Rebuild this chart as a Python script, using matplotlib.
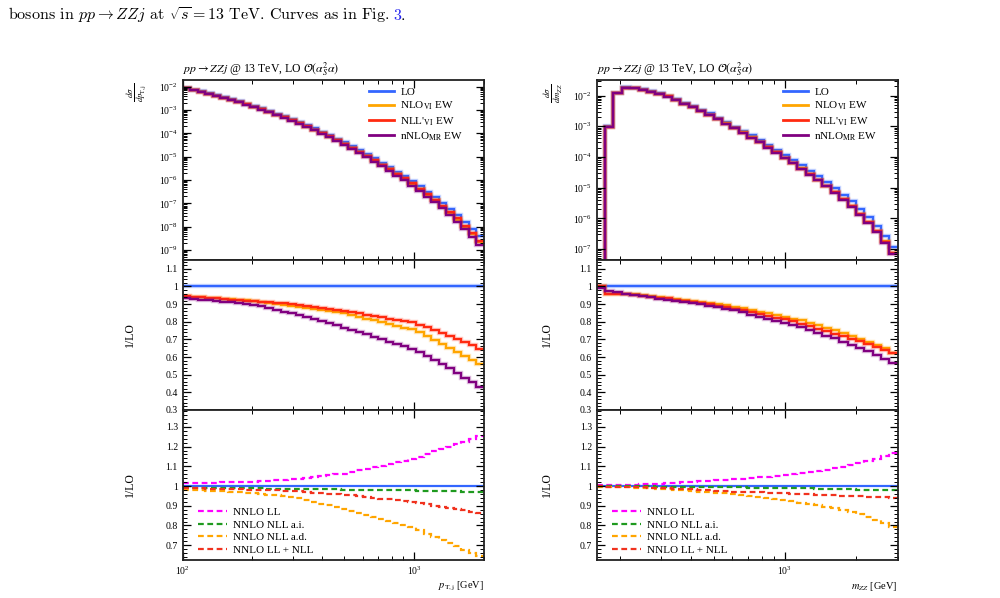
import numpy as np
import matplotlib.pyplot as plt
from matplotlib.ticker import LogLocator, MultipleLocator, NullFormatter, FuncFormatter
from matplotlib.lines import Line2D

plt.rcParams['font.family'] = ['Liberation Serif', 'DejaVu Serif']
plt.rcParams['mathtext.fontset'] = 'stix'

# log-spaced histogram binning
pt_edges = np.geomspace(100, 2000, 41)
mzz_edges = np.geomspace(160, 3000, 37)

# ---- p_T,j distribution (LO) and ratios to LO
pt_lo = [9.1e-3, 7.6e-3, 6.5e-3, 5.2e-3, 4.4e-3, 3.5e-3, 2.95e-3, 2.34e-3, 1.91e-3, 1.51e-3,
         1.17e-3, 9.3e-4, 7.1e-4, 5.5e-4, 4.1e-4, 3.1e-4, 2.24e-4, 1.66e-4, 1.20e-4, 8.5e-5,
         6.0e-5, 4.2e-5, 2.8e-5, 1.95e-5, 1.32e-5, 8.5e-6, 5.6e-6, 3.6e-6, 2.3e-6, 1.45e-6,
         8.9e-7, 5.4e-7, 3.2e-7, 1.9e-7, 1.07e-7, 5.8e-8, 3.2e-8, 1.62e-8, 8.1e-9, 3.9e-9]
pt_nlo = [0.945, 0.942, 0.939, 0.936, 0.933, 0.930, 0.927, 0.924, 0.921, 0.917,
          0.912, 0.907, 0.901, 0.896, 0.891, 0.885, 0.879, 0.873, 0.867, 0.860,
          0.854, 0.847, 0.838, 0.828, 0.818, 0.808, 0.797, 0.787, 0.777, 0.767,
          0.757, 0.740, 0.718, 0.696, 0.674, 0.651, 0.628, 0.605, 0.583, 0.560]
pt_nll = [0.944, 0.941, 0.938, 0.935, 0.932, 0.929, 0.926, 0.923, 0.920, 0.917,
          0.914, 0.910, 0.907, 0.904, 0.901, 0.896, 0.890, 0.884, 0.877, 0.872,
          0.867, 0.862, 0.855, 0.848, 0.840, 0.833, 0.826, 0.818, 0.811, 0.804,
          0.797, 0.783, 0.768, 0.753, 0.738, 0.720, 0.702, 0.684, 0.667, 0.648]
pt_nnlo_mr = [0.933, 0.930, 0.926, 0.922, 0.918, 0.914, 0.910, 0.906, 0.902, 0.897,
              0.888, 0.878, 0.868, 0.858, 0.848, 0.838, 0.827, 0.816, 0.805, 0.793,
              0.780, 0.767, 0.754, 0.741, 0.728, 0.715, 0.701, 0.688, 0.674, 0.661,
              0.647, 0.628, 0.607, 0.585, 0.563, 0.538, 0.511, 0.484, 0.456, 0.428]
pt_ll = [1.013, 1.014, 1.015, 1.016, 1.017, 1.018, 1.019, 1.020, 1.021, 1.022,
         1.025, 1.027, 1.029, 1.031, 1.034, 1.038, 1.042, 1.047, 1.051, 1.056,
         1.060, 1.063, 1.071, 1.079, 1.088, 1.096, 1.104, 1.112, 1.121, 1.129,
         1.137, 1.149, 1.162, 1.175, 1.187, 1.200, 1.212, 1.225, 1.238, 1.251]
pt_nll_ai = [0.992, 0.992, 0.991, 0.991, 0.990, 0.990, 0.990, 0.989, 0.989, 0.988,
             0.988, 0.987, 0.987, 0.986, 0.986, 0.985, 0.985, 0.984, 0.984, 0.983,
             0.983, 0.982, 0.982, 0.981, 0.981, 0.980, 0.980, 0.979, 0.979, 0.978,
             0.978, 0.977, 0.977, 0.976, 0.975, 0.974, 0.973, 0.972, 0.971, 0.970]
pt_nll_ad = [0.982, 0.980, 0.978, 0.976, 0.975, 0.973, 0.971, 0.969, 0.967, 0.965,
             0.961, 0.957, 0.953, 0.949, 0.945, 0.937, 0.928, 0.920, 0.911, 0.902,
             0.894, 0.885, 0.875, 0.865, 0.854, 0.844, 0.834, 0.824, 0.813, 0.803,
             0.792, 0.775, 0.759, 0.742, 0.726, 0.710, 0.694, 0.677, 0.661, 0.645]
pt_ll_nll = [0.990, 0.989, 0.988, 0.987, 0.986, 0.985, 0.984, 0.983, 0.982, 0.981,
             0.980, 0.979, 0.978, 0.977, 0.976, 0.973, 0.970, 0.967, 0.964, 0.962,
             0.959, 0.956, 0.952, 0.948, 0.944, 0.940, 0.936, 0.932, 0.928, 0.924,
             0.920, 0.914, 0.908, 0.901, 0.895, 0.889, 0.882, 0.876, 0.869, 0.863]

# ---- m_ZZ distribution (LO) and ratios to LO  (first bin is empty)
mzz_lo = [1e-12, 1.0e-3, 1.23e-2, 1.9e-2, 1.82e-2, 1.58e-2, 1.38e-2, 1.17e-2, 1.0e-2, 7.9e-3,
          5.9e-3, 4.6e-3, 3.4e-3, 2.6e-3, 1.9e-3, 1.38e-3, 9.8e-4, 7.2e-4, 5.0e-4, 3.6e-4,
          2.45e-4, 1.7e-4, 1.15e-4, 7.9e-5, 5.3e-5, 3.55e-5, 2.35e-5, 1.51e-5, 9.5e-6, 5.9e-6,
          3.55e-6, 2.04e-6, 1.12e-6, 5.8e-7, 2.75e-7, 1.2e-7]
mzz_nlo = [1.0, 0.955, 0.955, 0.957, 0.957, 0.951, 0.946, 0.940, 0.935, 0.929,
           0.923, 0.918, 0.912, 0.906, 0.900, 0.893, 0.885, 0.876, 0.866, 0.857,
           0.847, 0.838, 0.828, 0.818, 0.808, 0.794, 0.780, 0.766, 0.751, 0.735,
           0.719, 0.703, 0.686, 0.668, 0.649, 0.625]
mzz_nll = [1.0, 0.955, 0.955, 0.955, 0.951, 0.946, 0.941, 0.937, 0.932, 0.926,
           0.920, 0.913, 0.907, 0.899, 0.891, 0.884, 0.875, 0.865, 0.855, 0.845,
           0.835, 0.824, 0.813, 0.802, 0.790, 0.776, 0.761, 0.747, 0.733, 0.718,
           0.704, 0.689, 0.675, 0.658, 0.641, 0.622]
mzz_nnlo_mr = [0.99, 0.977, 0.968, 0.960, 0.952, 0.945, 0.938, 0.931, 0.925, 0.919,
               0.912, 0.906, 0.899, 0.891, 0.883, 0.874, 0.864, 0.853, 0.841, 0.829,
               0.817, 0.806, 0.794, 0.782, 0.769, 0.753, 0.738, 0.722, 0.706, 0.688,
               0.671, 0.653, 0.635, 0.612, 0.590, 0.568]
mzz_ll = [1.003, 1.004, 1.005, 1.006, 1.007, 1.009, 1.010, 1.011, 1.013, 1.016,
          1.018, 1.021, 1.024, 1.027, 1.030, 1.033, 1.035, 1.038, 1.041, 1.044,
          1.048, 1.052, 1.056, 1.061, 1.065, 1.069, 1.074, 1.080, 1.090, 1.098,
          1.106, 1.115, 1.126, 1.139, 1.151, 1.168]
mzz_nll_ai = [1.000, 1.000, 0.999, 0.999, 0.999, 0.998, 0.998, 0.997, 0.997, 0.996,
              0.996, 0.995, 0.995, 0.994, 0.994, 0.993, 0.993, 0.993, 0.992, 0.992,
              0.991, 0.991, 0.990, 0.990, 0.989, 0.988, 0.987, 0.986, 0.985, 0.984,
              0.983, 0.982, 0.981, 0.980, 0.979, 0.978]
mzz_nll_ad = [0.997, 0.996, 0.994, 0.993, 0.991, 0.990, 0.988, 0.987, 0.984, 0.981,
              0.978, 0.975, 0.972, 0.969, 0.966, 0.963, 0.959, 0.955, 0.950, 0.946,
              0.941, 0.935, 0.929, 0.922, 0.916, 0.909, 0.903, 0.896, 0.888, 0.878,
              0.867, 0.856, 0.843, 0.827, 0.811, 0.790]
mzz_ll_nll = [0.998, 0.997, 0.996, 0.995, 0.994, 0.993, 0.992, 0.991, 0.989, 0.987,
              0.985, 0.983, 0.981, 0.979, 0.977, 0.975, 0.972, 0.971, 0.969, 0.968,
              0.966, 0.965, 0.963, 0.962, 0.960, 0.958, 0.956, 0.954, 0.952, 0.951,
              0.949, 0.948, 0.946, 0.945, 0.943, 0.941]

ew_labels = ['LO', r'NLO$_{\mathrm{VI}}$ EW', r"NLL$'_{\mathrm{VI}}$ EW", r'nNLO$_{\mathrm{MR}}$ EW']
ew_colors = ['#3366ff', '#ffa500', '#ff2a10', '#800080']
nnlo_labels = ['NNLO LL', 'NNLO NLL a.i.', 'NNLO NLL a.d.', 'NNLO LL + NLL']
nnlo_colors = ['#ff00ff', '#1f9a1f', '#ffa500', '#f0321e']

title = r'$pp \to ZZj$ @ 13 TeV, LO $\mathcal{O}(\alpha_S^2\alpha)$'
tick_fs = 7
dash = (0, (2.6, 1.6))


def style_axis(ax):
    ax.set_xscale('log')
    ax.xaxis.set_major_locator(LogLocator(base=10, numticks=10))
    ax.xaxis.set_minor_locator(LogLocator(base=10, subs=np.arange(2, 10), numticks=10))
    ax.xaxis.set_minor_formatter(NullFormatter())
    ax.tick_params(which='both', direction='in', top=True, right=True, labelsize=tick_fs)
    ax.tick_params(which='major', length=6, width=0.9)
    ax.tick_params(which='minor', length=3, width=0.7)
    for s in ax.spines.values():
        s.set_linewidth(1.3)
        s.set_color('#222222')


def draw(x0, edges, lo, ratios, nnlo, xlim, ylim_top, ylab_top, xlab, ylab_x):
    lo = np.array(lo)
    w = 0.301
    a1 = fig.add_axes([x0, 0.5652, w, 0.301])
    a2 = fig.add_axes([x0, 0.3144, w, 0.2508])
    a3 = fig.add_axes([x0, 0.0635, w, 0.2508])
    for ax in (a1, a2, a3):
        style_axis(ax)
        ax.set_xlim(*xlim)
    a1.tick_params(labelbottom=False)
    a2.tick_params(labelbottom=False)

    # top: distributions
    a1.set_yscale('log')
    for r, c in zip(ratios, ew_colors):
        y = lo * np.array(r)
        a1.stairs(y, edges, color=c, lw=3.2, alpha=0.25, baseline=None)
        a1.stairs(y, edges, color=c, lw=1.6, baseline=None)
    a1.set_ylim(*ylim_top)
    a1.yaxis.set_major_locator(LogLocator(base=10, numticks=15))
    a1.yaxis.set_minor_locator(LogLocator(base=10, subs=np.arange(2, 10), numticks=15))
    a1.yaxis.set_minor_formatter(NullFormatter())
    handles = [Line2D([], [], color=c, lw=2) for c in ew_colors]
    a1.legend(handles, ew_labels, loc='upper left', bbox_to_anchor=(0.62, 0.96),
              frameon=False, fontsize=8, handlelength=2.25, handletextpad=0.55,
              labelspacing=0.25, borderaxespad=0, borderpad=0)
    a1.set_title(title, loc='left', fontsize=8.5, pad=5)
    a1.set_ylabel(ylab_top, fontsize=9)
    a1.yaxis.set_label_coords(ylab_x + 0.04, 0.93)

    # middle: ratios
    for r, c in zip(ratios, ew_colors):
        a2.stairs(r, edges, color=c, lw=3.2, alpha=0.25, baseline=None)
        a2.stairs(r, edges, color=c, lw=1.6, baseline=None)
    a2.set_ylim(0.3, 1.15)
    a2.yaxis.set_major_locator(MultipleLocator(0.1))
    a2.yaxis.set_minor_locator(MultipleLocator(0.02))
    a2.yaxis.set_major_formatter(FuncFormatter(lambda v, p: f'{v:g}'))
    a2.set_ylabel('1/LO', fontsize=8.5)
    a2.yaxis.set_label_coords(ylab_x, 0.5)

    # bottom: NNLO ratios
    a3.stairs(np.ones(len(lo)), edges, color=ew_colors[0], lw=1.6, baseline=None)
    for r, c in zip(nnlo, nnlo_colors):
        a3.stairs(r, edges, color=c, lw=1.6, ls=dash, baseline=None)
    a3.set_ylim(0.625, 1.385)
    a3.yaxis.set_major_locator(MultipleLocator(0.1))
    a3.yaxis.set_minor_locator(MultipleLocator(0.02))
    a3.yaxis.set_major_formatter(FuncFormatter(lambda v, p: f'{v:g}'))
    handles = [Line2D([], [], color=c, lw=1.6, ls=dash) for c in nnlo_colors]
    a3.legend(handles, nnlo_labels, loc='lower left', bbox_to_anchor=(0.05, 0.035),
              frameon=False, fontsize=8, handlelength=2.6, handletextpad=0.55,
              labelspacing=0.25, borderaxespad=0, borderpad=0)
    a3.set_ylabel('1/LO', fontsize=8.5)
    a3.yaxis.set_label_coords(ylab_x, 0.5)
    a3.set_xlabel(xlab, fontsize=7.5, loc='right', labelpad=2)


fig = plt.figure(figsize=(10, 5.98), dpi=100)

draw(0.1827, pt_edges, pt_lo, [np.ones(40), pt_nlo, pt_nll, pt_nnlo_mr],
     [pt_ll, pt_nll_ai, pt_nll_ad, pt_ll_nll], (100, 2000), (3.7e-10, 1.95e-2),
     r'$\frac{d\sigma}{dp_{\mathrm{T,j}}}$', r'$p_{\mathrm{T,j}}$ [GeV]', -0.155)
draw(0.5967, mzz_edges, mzz_lo, [np.ones(36), mzz_nlo, mzz_nll, mzz_nnlo_mr],
     [mzz_ll, mzz_nll_ai, mzz_nll_ad, mzz_ll_nll], (160, 3000), (4.4e-8, 3.2e-2),
     r'$\frac{d\sigma}{dm_{ZZ}}$', r'$m_{ZZ}$ [GeV]', -0.145)

# caption line above the figure, with the blue reference number
cap_y = 0.966
cap = fig.text(0.008, cap_y, r'bosons in $pp \to ZZj$ at $\sqrt{s} = 13$ TeV. Curves as in Fig.',
               fontsize=11.5, family='cmr10', math_fontfamily='cm', va='baseline')
fig.canvas.draw()
bb = cap.get_window_extent()
x_num = (bb.x1 + 4) / fig.bbox.width
num = fig.text(x_num, cap_y, '3', fontsize=11.5, family='cmr10', color='#2020ee', va='baseline')
fig.canvas.draw()
nb = num.get_window_extent()
fig.text(nb.x1 / fig.bbox.width, cap_y, '.', fontsize=11.5, family='cmr10', va='baseline')

fig.savefig('out.png', dpi=100)
